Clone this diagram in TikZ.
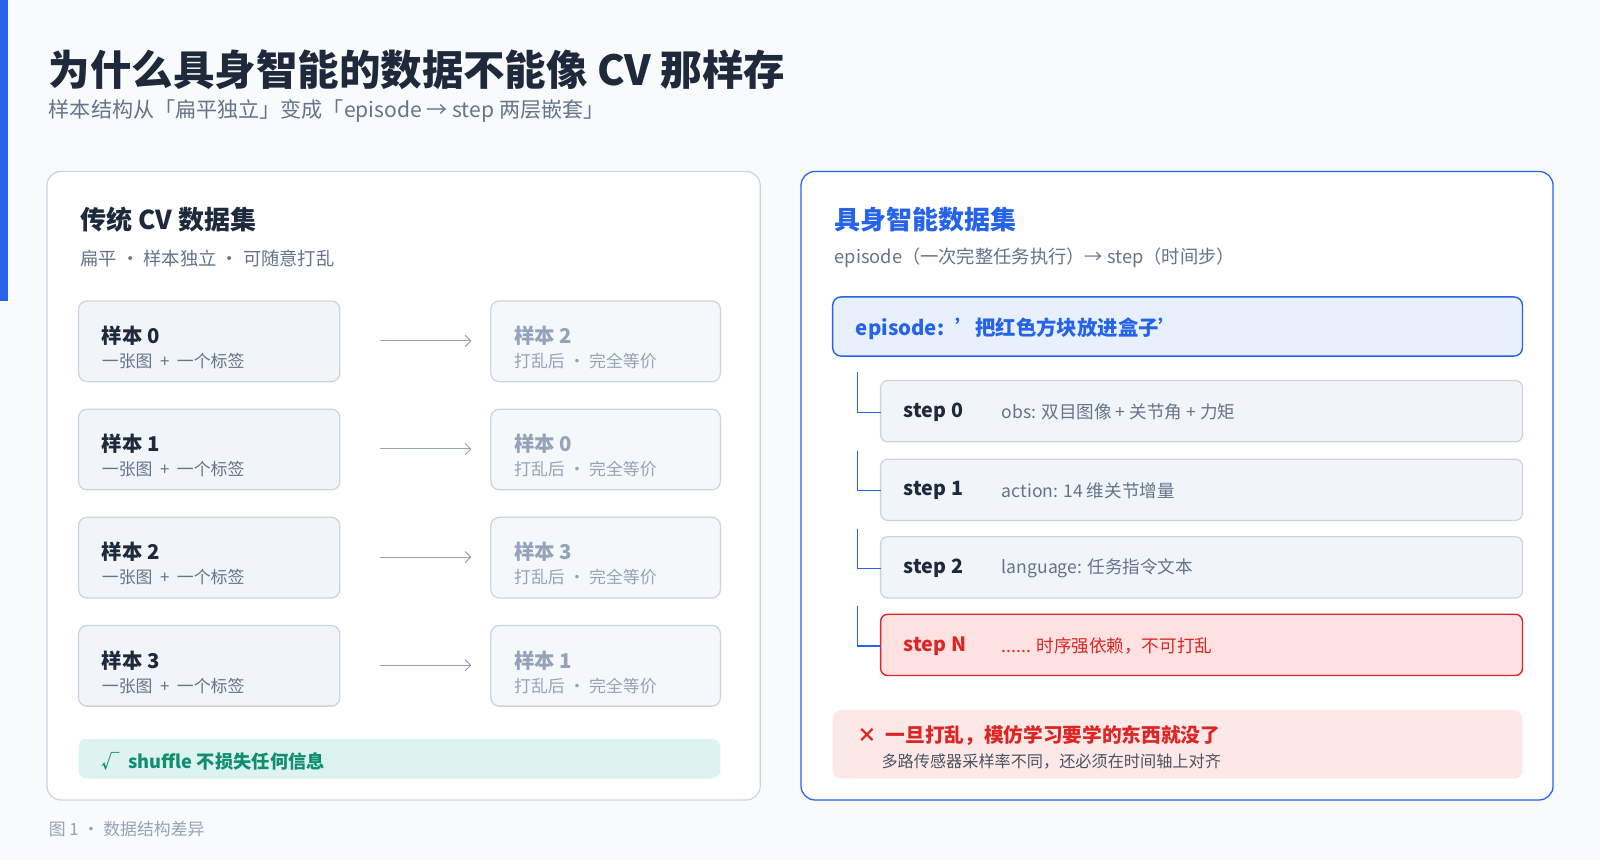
\documentclass[tikz,border=0pt]{standalone}
\usepackage{fontspec}
\setmainfont{Noto Sans CJK SC}
\usetikzlibrary{arrows.meta}
\definecolor{bgc}{HTML}{F8FAFC}
\definecolor{ink}{HTML}{1E293B}
\definecolor{muted}{HTML}{64748B}
\definecolor{faint}{HTML}{94A3B8}
\definecolor{edge}{HTML}{CBD5E1}
\definecolor{cell}{HTML}{F1F5F9}
\definecolor{accent}{HTML}{2563EB}
\definecolor{accentfill}{HTML}{E8F0FE}
\definecolor{alarm}{HTML}{DC2626}
\definecolor{alarmfill}{HTML}{FEE2E2}
\definecolor{notefill}{HTML}{FDE8E8}
\definecolor{okc}{HTML}{0F8F6F}
\definecolor{okfill}{HTML}{DDF3EF}
\tikzset{panel/.style={draw=edge,fill=white,rounded corners=10pt,line width=0.9pt}}
\tikzset{sample/.style={draw=edge,fill=cell,rounded corners=6pt,line width=0.9pt}}
\tikzset{stepbox/.style={draw=edge,fill=cell,rounded corners=5pt,line width=0.9pt}}
\tikzset{flow/.style={draw=faint,line width=0.7pt,-{Straight Barb[length=4pt]}}}
\tikzset{tree/.style={draw=accent,line width=0.9pt}}
\begin{document}
\begin{tikzpicture}[x={(0.02551cm,0)},y={(0,-0.02551cm)}]
\fill[bgc] (0,0) rectangle (1568,843);
\useasboundingbox (0,0) rectangle (1568,843);
\fill[accent] (0,0) rectangle (8,295);

% heading
\node[anchor=west,font=\bfseries\fontsize{29.5}{32}\selectfont,text=ink] (title) at (43,68) {为什么具身智能的数据不能像 CV 那样存};
\node[anchor=west,font=\fontsize{15}{17}\selectfont,text=muted] (sub) at (43,109) {样本结构从「扁平独立」变成「episode → step 两层嵌套」};

% left panel
\draw[panel] (46,168) rectangle (745,784);
\node[anchor=west,font=\bfseries\fontsize{18.5}{20}\selectfont,text=ink] (lhead) at (74,215) {传统 CV 数据集};
\node[anchor=west,font=\fontsize{13}{14}\selectfont,text=muted] (lsub) at (74,253) {扁平 · 样本独立 · 可随意打乱};
\foreach \i/\y/\j in {0/295/2,1/401/0,2/507/3,3/613/1}{
  \draw[sample] (77,\y) rectangle (333,\y+79);
  \node[anchor=west,font=\bfseries\fontsize{14.5}{16}\selectfont,text=ink] (s\i) at (95,\y+34) {样本 \i};
  \node[anchor=west,font=\fontsize{12}{13}\selectfont,text=muted] (s\i d) at (95,\y+59) {一张图 \ + \ 一个标签};
  \draw[sample,fill=cell!70] (481,\y) rectangle (706,\y+79);
  \node[anchor=west,font=\bfseries\fontsize{14.5}{16}\selectfont,text=faint] (t\i) at (499,\y+34) {样本 \j};
  \node[anchor=west,font=\fontsize{12}{13}\selectfont,text=faint] (t\i d) at (499,\y+59) {打乱后 · 完全等价};
  \coordinate (a\i) at (372,\y+39);
  \coordinate (b\i) at (462,\y+39);
  \draw[flow] (a\i) -- (b\i);
}
\fill[okfill,rounded corners=6pt] (77,724) rectangle (706,763);
\node[anchor=west,font=\bfseries\fontsize{13}{14}\selectfont,text=okc] (ok) at (95,746) {√ \ shuffle 不损失任何信息};

% right panel
\draw[panel,draw=accent] (785,168) rectangle (1522,784);
\node[anchor=west,font=\bfseries\fontsize{18.5}{20}\selectfont,text=accent] (rhead) at (813,215) {具身智能数据集};
\node[anchor=west,font=\fontsize{13}{14}\selectfont,text=muted] (rsub) at (813,253) {episode（一次完整任务执行）→ step（时间步）};
\draw[draw=accent,fill=accentfill,rounded corners=6pt,line width=1pt] (816,291) rectangle (1492,349);
\node[anchor=west,font=\bfseries\fontsize{14.5}{16}\selectfont,text=accent] (ep) at (834,322) {episode: \ '把红色方块放进盒子'};
\foreach \k/\y/\lab/\txt in {0/373/step 0/obs: 双目图像 + 关节角 + 力矩,1/450/step 1/action: 14 维关节增量,2/526/step 2/language: 任务指令文本}{
  \draw[stepbox] (863,\y) rectangle (1492,\y+60);
  \node[anchor=west,font=\bfseries\fontsize{14}{16}\selectfont,text=ink] (st\k) at (881,\y+31) {\lab};
  \node[anchor=west,font=\fontsize{12.5}{14}\selectfont,text=muted] (sd\k) at (977,\y+31) {\txt};
  \coordinate (v\k) at (840,\y-8);
  \coordinate (h\k) at (863,\y+31);
  \draw[tree] (v\k) |- (h\k);
}
\draw[draw=alarm,fill=alarmfill,rounded corners=5pt,line width=1pt] (863,602) rectangle (1492,662);
\node[anchor=west,font=\bfseries\fontsize{14}{16}\selectfont,text=alarm] (stN) at (881,633) {step N};
\node[anchor=west,font=\fontsize{12.5}{14}\selectfont,text=alarm] (sdN) at (977,633) {...... 时序强依赖，不可打乱};
\coordinate (vN) at (840,594);
\coordinate (hN) at (863,633);
\draw[tree] (vN) |- (hN);
\fill[notefill,rounded corners=6pt] (816,696) rectangle (1492,763);
\node[anchor=west,font=\bfseries\fontsize{14}{16}\selectfont,text=alarm] (warn) at (835,721) {× \ 一旦打乱，模仿学习要学的东西就没了};
\node[anchor=west,font=\fontsize{11.5}{13}\selectfont,text=ink!80] (warnd) at (859,746) {多路传感器采样率不同，还必须在时间轴上对齐};

% caption
\node[anchor=west,font=\fontsize{12}{13}\selectfont,text=faint] (cap) at (43,813) {图 1 · 数据结构差异};
\end{tikzpicture}
\end{document}
